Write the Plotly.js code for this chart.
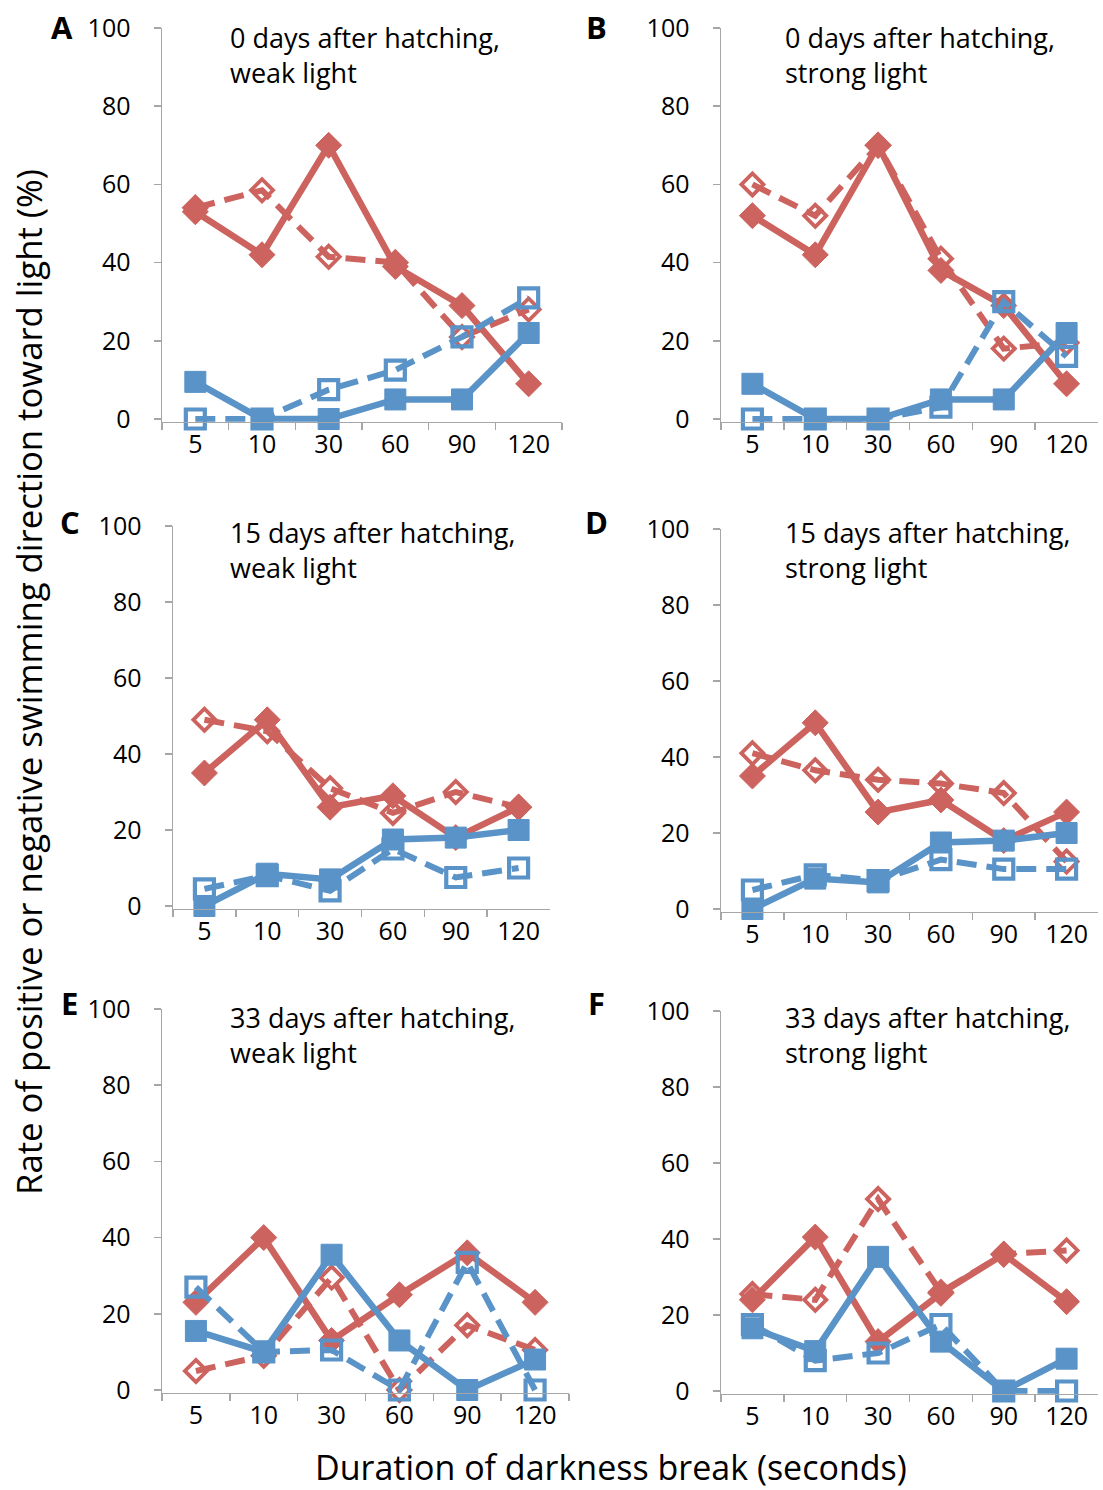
<!DOCTYPE html>
<html>
<head>
<meta charset="utf-8">
<script src="https://cdn.plot.ly/plotly-3.0.1.min.js"></script>
<style>html,body{margin:0;padding:0;background:#fff;}#chart{width:1103px;height:1490px;}</style>
</head>
<body>
<div id="chart"></div>
<script>
// ---------- DATA ----------
const categories = ['5', '10', '30', '60', '90', '120'];
const yTickVals = [0, 20, 40, 60, 80, 100];

const panelLetters = ['A', 'B', 'C', 'D', 'E', 'F'];
const panelTitles = [
  '0 days after hatching,<br>weak light',
  '0 days after hatching,<br>strong light',
  '15 days after hatching,<br>weak light',
  '15 days after hatching,<br>strong light',
  '33 days after hatching,<br>weak light',
  '33 days after hatching,<br>strong light'
];

// red, solid line, filled diamonds
const redSolidA = [53, 42, 70, 39, 29, 9];
const redSolidB = [52, 42, 70, 38, 29, 9];
const redSolidC = [35, 49, 26, 29, 18, 26];
const redSolidD = [35, 49, 25.5, 28.7, 18, 25.5];
const redSolidE = [23, 40, 13, 25, 36, 23];
const redSolidF = [24, 40.5, 13, 25.7, 36, 23.5];

// red, dashed line, open diamonds
const redDashedA = [54, 58.5, 41.5, 40, 21, 28];
const redDashedB = [60, 52, 70, 41, 18, 19.5];
const redDashedC = [49, 46, 31, 24.5, 30, 26];
const redDashedD = [41, 36.5, 34, 33, 30.5, 12.5];
const redDashedE = [5, 9, 29.5, 0, 17, 10.5];
const redDashedF = [25.5, 24, 50.5, 26, 36, 37];

// blue, solid line, filled squares
const blueSolidA = [9.5, 0, 0, 5, 5, 22];
const blueSolidB = [9, 0, 0, 5, 5, 22];
const blueSolidC = [0, 8.5, 7, 17.5, 18, 20];
const blueSolidD = [0, 8, 7, 17.5, 18, 20];
const blueSolidE = [15.5, 10, 35.5, 13, 0, 8];
const blueSolidF = [16.5, 10.5, 35.3, 13, 0, 8.5];

// blue, dashed line, open squares
const blueDashedA = [0, 0, 7.5, 12.5, 21, 31];
const blueDashedB = [0, 0, 0, 3, 30, 16];
const blueDashedC = [4.5, 8, 4, 15, 7.5, 10];
const blueDashedD = [5, 9, 7.5, 13, 10.5, 10.5];
const blueDashedE = [27, 10, 10.5, 0, 33.5, 0];
const blueDashedF = [17.5, 8, 10, 17.5, 0, 0];

const seriesByPanel = [
  [redSolidA, redDashedA, blueSolidA, blueDashedA],
  [redSolidB, redDashedB, blueSolidB, blueDashedB],
  [redSolidC, redDashedC, blueSolidC, blueDashedC],
  [redSolidD, redDashedD, blueSolidD, blueDashedD],
  [redSolidE, redDashedE, blueSolidE, blueDashedE],
  [redSolidF, redDashedF, blueSolidF, blueDashedF]
];

const xTitle = 'Duration of darkness break (seconds)';
const yTitle = 'Rate of positive or negative swimming direction toward light (%)';

// ---------- STYLE / LAYOUT ----------
const W = 1103, H = 1490;
const FONT = '"Open Sans", Lato, sans-serif';
const RED = '#CD635E';
const BLUE = '#5A93C8';
const AXIS = '#A6A6A6';
const YMIN = -0.7;

// pixel boxes for each panel: left, right, y of 100, y of 0, letter & title anchors
const boxes = [
  {l: 162, r: 562, t: 28, b: 419, lx: 62, ly: 27, tx: 228, ty: 55},
  {l: 721, r: 1098, t: 28, b: 419, lx: 596, ly: 27, tx: 783, ty: 55},
  {l: 173, r: 550, t: 526, b: 906, lx: 70, ly: 522, tx: 228, ty: 550},
  {l: 721, r: 1098, t: 529, b: 909, lx: 596, ly: 522, tx: 783, ty: 550},
  {l: 162, r: 569, t: 1009, b: 1390, lx: 69, ly: 1003, tx: 228, ty: 1035},
  {l: 721, r: 1098, t: 1011, b: 1391, lx: 596, ly: 1003, tx: 783, ty: 1035}
];

const px = x => x / W;
const py = y => 1 - y / H;

const styles = [
  {line: {color: RED, width: 6.5}, marker: {symbol: 'diamond', size: 20, color: RED, line: {width: 1, color: RED}}},
  {line: {color: RED, width: 6, dash: '20px,10px'}, marker: {symbol: 'diamond-open', size: 17, color: RED, line: {width: 3.8, color: RED}}},
  {line: {color: BLUE, width: 6.5}, marker: {symbol: 'square', size: 21, color: BLUE, line: {width: 1, color: BLUE}}},
  {line: {color: BLUE, width: 6, dash: '20px,10px'}, marker: {symbol: 'square-open', size: 19, color: BLUE, line: {width: 4.2, color: BLUE}}}
];

const traces = [];
const layout = {
  width: W, height: H,
  margin: {l: 0, r: 0, t: 0, b: 0},
  paper_bgcolor: '#fff', plot_bgcolor: '#fff',
  showlegend: false,
  font: {family: FONT, color: '#000'},
  annotations: [],
  hovermode: false
};

boxes.forEach((bx, i) => {
  const n = i + 1;
  const xa = 'x' + (n === 1 ? '' : n);
  const ya = 'y' + (n === 1 ? '' : n);
  const pxPerUnit = (bx.b - bx.t) / 100;
  const bottomPx = bx.b - YMIN * pxPerUnit;
  layout['xaxis' + (n === 1 ? '' : n)] = {
    domain: [px(bx.l), px(bx.r)], anchor: ya, type: 'category',
    categoryorder: 'array', categoryarray: categories,
    range: [-0.5, 5.5], showline: true, linecolor: AXIS, linewidth: 1.5,
    ticks: 'outside', tickson: 'boundaries', ticklen: 7, tickcolor: AXIS, tickwidth: 1.5,
    tickfont: {size: 25, family: FONT, color: '#000'}, ticklabelstandoff: 0,
    showgrid: false, zeroline: false, fixedrange: true
  };
  layout['yaxis' + (n === 1 ? '' : n)] = {
    domain: [py(bottomPx), py(bx.t)], anchor: xa,
    range: [YMIN, 100], tickmode: 'array', tickvals: yTickVals,
    showline: true, linecolor: AXIS, linewidth: 1.5,
    ticks: 'outside', ticklen: 7, tickcolor: AXIS, tickwidth: 1.5,
    tickfont: {size: 25, family: FONT, color: '#000'}, ticklabelstandoff: 18,
    showgrid: false, zeroline: false, fixedrange: true
  };
  seriesByPanel[i].forEach((vals, k) => {
    traces.push({
      type: 'scatter', mode: 'lines+markers',
      x: categories, y: vals, xaxis: xa, yaxis: ya,
      line: styles[k].line, marker: styles[k].marker, cliponaxis: false
    });
  });
  layout.annotations.push({
    xref: 'paper', yref: 'paper', x: px(bx.lx), y: py(bx.ly),
    xanchor: 'center', yanchor: 'middle', showarrow: false,
    text: '<b>' + panelLetters[i] + '</b>', font: {size: 31, family: FONT, color: '#000'}
  });
  layout.annotations.push({
    xref: 'paper', yref: 'paper', x: px(bx.tx), y: py(bx.ty),
    xanchor: 'left', yanchor: 'middle', align: 'left', showarrow: false,
    text: panelTitles[i], font: {size: 27, family: FONT, color: '#000'}
  });
});

layout.annotations.push({
  xref: 'paper', yref: 'paper', x: px(611), y: py(1467),
  xanchor: 'center', yanchor: 'middle', showarrow: false,
  text: xTitle, font: {size: 34, family: FONT, color: '#000'}
});
layout.annotations.push({
  xref: 'paper', yref: 'paper', x: px(28), y: py(682),
  xanchor: 'center', yanchor: 'middle', showarrow: false, textangle: -90,
  text: yTitle, font: {size: 34.7, family: FONT, color: '#000'}
});

Plotly.newPlot('chart', traces, layout, {displayModeBar: false, staticPlot: true});
</script>
</body>
</html>
